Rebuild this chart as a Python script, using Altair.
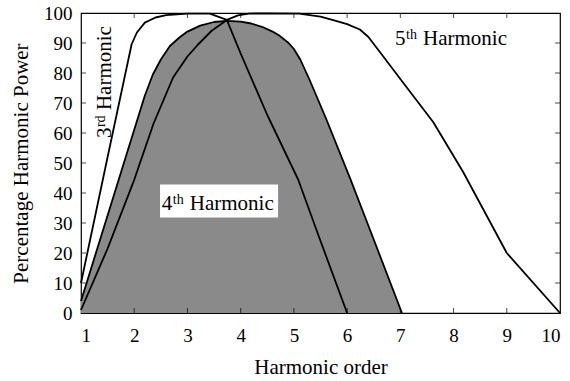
import altair as alt
import pandas as pd

# Harmonic power curves (percentage of maximum) against harmonic order
h3_order = [1.0, 1.5, 1.95, 2.05, 2.2, 2.4, 2.6, 3.0, 3.42, 3.74, 4.0, 4.5, 5.08, 5.5, 6.0]
h3_power = [10, 52, 89.5, 93.5, 96.8, 98.5, 99.3, 99.8, 99.8, 97.7, 86.5, 66, 44.5, 24, 0]

h4_order = [1.0, 2.2, 2.35, 2.5, 2.67, 2.86, 3.0, 3.24, 3.5, 3.74, 4.0, 4.2, 4.4, 4.6, 4.74, 4.9, 5.0, 5.12, 5.3, 5.6, 6.06, 6.5, 7.03]
h4_power = [4, 72.5, 79.5, 84.5, 89, 92, 93.8, 95.8, 97, 97.4, 97.1, 96.5, 95.4, 93.8, 92.3, 90, 88, 84.5, 77.5, 65, 44.7, 24.5, 0]

h5_order = [1.0, 1.5, 2.0, 2.36, 2.73, 3.0, 3.2, 3.45, 3.74, 3.95, 4.15, 4.5, 5.1, 5.5, 5.74, 6.0, 6.24, 6.4, 6.68, 7.0, 7.62, 8.18, 9.0, 10.0]
h5_power = [1, 21.5, 44.4, 63, 78.5, 85.5, 89.5, 94, 97.7, 99.2, 99.8, 99.9, 99.8, 98.8, 97.6, 96.3, 94.5, 92, 85.5, 78, 63.6, 47, 20, 0]

# Axis tick values
x_ticks = [1, 2, 3, 4, 5, 6, 7, 8, 9, 10]
y_ticks = [0, 10, 20, 30, 40, 50, 60, 70, 80, 90, 100]

# Curve labels: main number, superscript suffix, anchor (order, power), rotation
label_num = ["3", "4", "5"]
label_sup = ["rd", "th", "th"]
label_order = [1.57, 2.517, 6.90]
label_power = [58.3, 34.4, 89.4]
label_angle = [270, 0, 0]

# White backing box behind the 4th harmonic label
box_order = [2.485, 4.703]
box_power = [31.8, 42.8]

FONT = "Liberation Serif"
xs = alt.Scale(domain=[1, 10], nice=False, zero=False)
ys = alt.Scale(domain=[0, 100], nice=False)

x_axis = alt.Axis(values=x_ticks, title="Harmonic order", labelPadding=13,
                  titleY=60, titleBaseline="alphabetic", format="d")
y_axis = alt.Axis(values=y_ticks, title="Percentage Harmonic Power", labelPadding=9,
                  titleX=-54, titleY=150, titleAngle=270, titleBaseline="alphabetic",
                  titleAlign="center", format="d")


def X(field="order"):
    return alt.X(f"{field}:Q", scale=xs, axis=x_axis)


def Y(field="power"):
    return alt.Y(f"{field}:Q", scale=ys, axis=y_axis)


def curve(order, power):
    return pd.DataFrame({"order": order, "power": power})


d3 = curve(h3_order, h3_power)
d4 = curve(h4_order, h4_power)
d5 = curve(h5_order, h5_power)

fill4 = alt.Chart(d4).mark_area(color="#8a8a8a").encode(x=X(), y=Y())

line_style = dict(color="black", strokeWidth=1.8, strokeJoin="round")
line3 = alt.Chart(d3).mark_line(**line_style).encode(x=X(), y=Y())
line4 = alt.Chart(d4).mark_line(**line_style).encode(x=X(), y=Y())
line5 = alt.Chart(d5).mark_line(**line_style).encode(x=X(), y=Y())

# Inward tick marks on all four sides of the frame
xt = pd.DataFrame({"order": x_ticks[1:-1]})
yt = pd.DataFrame({"power": y_ticks[1:-1]})
tick_style = dict(color="black", size=5, thickness=1)
ticks_bottom = alt.Chart(xt).mark_tick(orient="vertical", yOffset=-2.5, **tick_style).encode(
    x=X(), y=alt.datum(0, scale=ys, axis=y_axis))
ticks_top = alt.Chart(xt).mark_tick(orient="vertical", yOffset=2.5, **tick_style).encode(
    x=X(), y=alt.datum(100, scale=ys, axis=y_axis))
ticks_left = alt.Chart(yt).mark_tick(orient="horizontal", xOffset=2.5, **tick_style).encode(
    y=Y(), x=alt.datum(1, scale=xs, axis=x_axis))
ticks_right = alt.Chart(yt).mark_tick(orient="horizontal", xOffset=-2.5, **tick_style).encode(
    y=Y(), x=alt.datum(10, scale=xs, axis=x_axis))

box = alt.Chart(pd.DataFrame({"order": [box_order[0]], "order2": [box_order[1]],
                              "power": [box_power[0]], "power2": [box_power[1]]})).mark_rect(
    color="white").encode(x=X(), x2="order2:Q", y=Y(), y2="power2:Q")

labels = pd.DataFrame({"num": label_num, "sup": label_sup, "order": label_order,
                       "power": label_power, "angle": label_angle})

text_layers = []
for _, r in labels.iterrows():
    row = pd.DataFrame([r])
    base = alt.Chart(row).encode(x=X(), y=Y())
    common = dict(font=FONT, color="black", align="left", baseline="alphabetic", angle=int(r["angle"]))
    text_layers.append(base.mark_text(fontSize=21, **common).encode(text="num:N"))
    text_layers.append(base.mark_text(fontSize=14, dx=11, dy=-6, **common).encode(text="sup:N"))
    text_layers.append(base.mark_text(fontSize=21, dx=28, **common).encode(text=alt.value("Harmonic")))

chart = alt.layer(
    fill4, line4, line3, line5,
    ticks_bottom, ticks_top, ticks_left, ticks_right,
    box, *text_layers,
).properties(
    width=479, height=300,
    autosize=alt.AutoSizeParams(type="none"),
    padding={"left": 81, "top": 13, "right": 10, "bottom": 68},
    background="white",
).configure_view(
    stroke="black", strokeWidth=1.2
).configure_axis(
    domain=False, ticks=False, tickSize=0, grid=False,
    labelFont=FONT, labelFontSize=19, labelColor="black",
    titleFont=FONT, titleFontSize=21, titleFontWeight="normal", titleColor="black",
)

chart.save("out.html", embed_options={"renderer": "svg", "actions": False})
